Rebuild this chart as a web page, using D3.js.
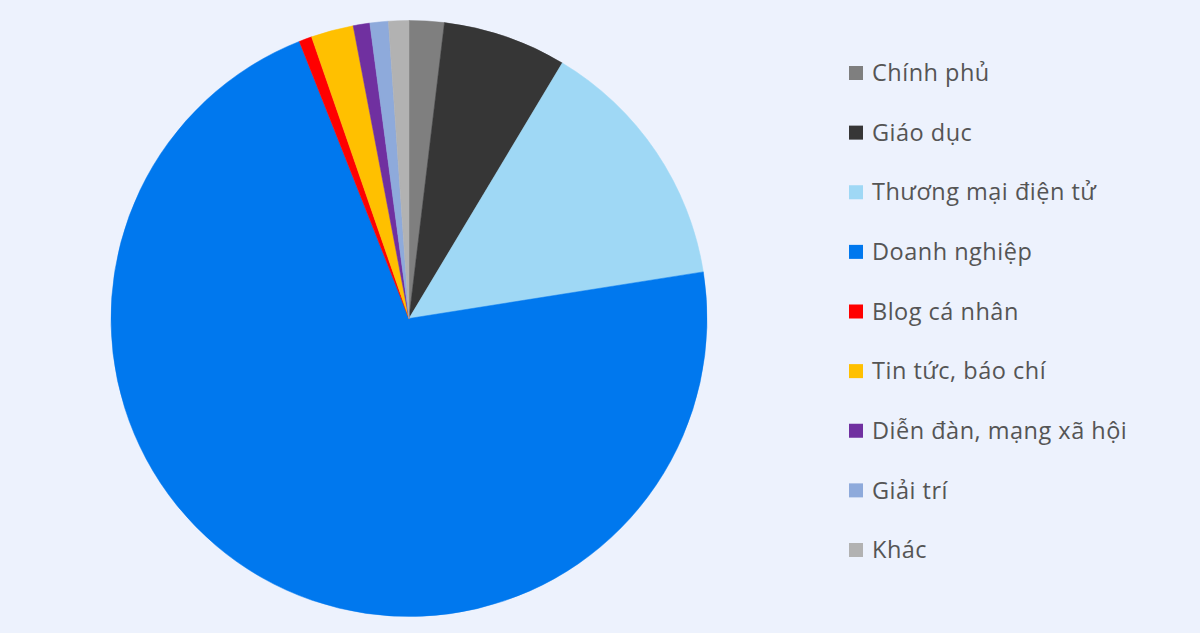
<!DOCTYPE html>
<html><head><meta charset="utf-8">
<script src="https://cdn.jsdelivr.net/npm/d3@7"></script>
<style>html,body{margin:0;padding:0;background:#edf2fd;}svg{display:block;}</style>
</head><body>
<svg id="c" width="1200" height="633"></svg>
<script>
const categories = ["Chính phủ","Giáo dục","Thương mại điện tử","Doanh nghiệp","Blog cá nhân","Tin tức, báo chí","Diễn đàn, mạng xã hội","Giải trí","Khác"];
const values = [1.9, 6.7, 13.9, 71.5, 0.7, 2.3, 0.9, 1.0, 1.1];
const colors = ["#7f7f7f","#363636","#9fd8f5","#0078ee","#ff0000","#ffc000","#7030a0","#8eaadb","#b2b2b2"];

const svg = d3.select("#c");
const cx = 409, cy = 318.5, r = 298;
const pie = d3.pie().sort(null).value(d => d)(values);
const arc = d3.arc().innerRadius(0).outerRadius(r);
const color = d3.scaleOrdinal().domain(categories).range(colors);

svg.append("g").attr("transform", `translate(${cx},${cy})`)
  .selectAll("path").data(pie).join("path")
  .attr("d", arc)
  .attr("fill", (d,i) => color(categories[i]))
  .attr("stroke", (d,i) => color(categories[i]))
  .attr("stroke-width", 0.5);

const ly = d3.scalePoint().domain(categories).range([73, 550]);
const lg = svg.append("g");
const items = lg.selectAll("g").data(categories).join("g")
  .attr("transform", d => `translate(849,${ly(d)})`);
items.append("rect").attr("x",0).attr("y",-7).attr("width",14).attr("height",14)
  .attr("fill", d => color(d));
items.append("text").attr("x",23).attr("y",0).attr("dy","0.35em")
  .attr("font-family","'Open Sans', Lato, sans-serif").attr("font-size",23.5)
  .attr("font-weight",500).attr("letter-spacing",0.5)
  .attr("fill","#555555").text(d => d);
</script>
</body></html>
